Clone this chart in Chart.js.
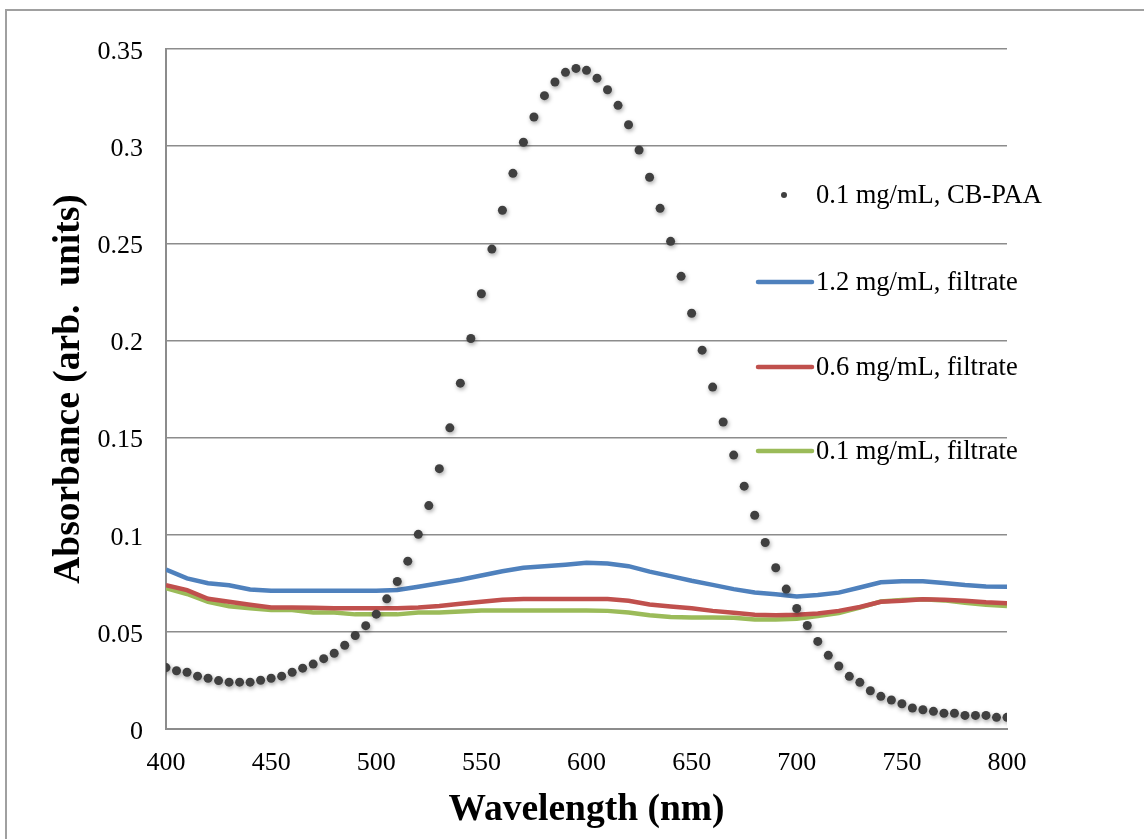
<!DOCTYPE html>
<html>
<head>
<meta charset="utf-8">
<script src="https://cdn.jsdelivr.net/npm/chart.js@4.4.1/dist/chart.umd.min.js"></script>
<style>
  html, body { margin: 0; padding: 0; background: #fff; }
  canvas { display: block; }
</style>
</head>
<body>
<canvas id="chart" width="1144" height="839"></canvas>
<script>
// CB-PAA dots, every 5 nm
const dotWavelengths = [];
for (let w = 400; w <= 800; w += 5) dotWavelengths.push(w);
const cbPaa = [
  0.0316, 0.030, 0.0292, 0.0272, 0.0261, 0.0249, 0.0241, 0.0241, 0.0241, 0.0251,
  0.0261, 0.0272, 0.0292, 0.0313, 0.0334, 0.0362, 0.039, 0.0431, 0.0481, 0.0532,
  0.0591, 0.067, 0.0759, 0.0864, 0.1002, 0.115, 0.134, 0.155, 0.178, 0.201,
  0.224, 0.247, 0.267, 0.286, 0.302, 0.315, 0.326, 0.333, 0.338, 0.340,
  0.339, 0.335, 0.329, 0.321, 0.311, 0.298, 0.284, 0.268, 0.251, 0.233,
  0.214, 0.195, 0.176, 0.158, 0.141, 0.125, 0.110, 0.096, 0.083, 0.072,
  0.062, 0.0533, 0.0451, 0.0379, 0.0324, 0.0271, 0.024, 0.0197, 0.0168, 0.0149,
  0.013, 0.0108, 0.0099, 0.0091, 0.0081, 0.0081, 0.007, 0.007, 0.007, 0.006,
  0.006
];

// filtrate lines, every 10 nm
const lineWavelengths = [];
for (let w = 400; w <= 800; w += 10) lineWavelengths.push(w);
const filtrate12 = [
  0.082, 0.0775, 0.075, 0.074, 0.0718, 0.0711, 0.0711, 0.0711, 0.0711, 0.0711,
  0.0711, 0.0715, 0.0732, 0.075, 0.0768, 0.079, 0.0812, 0.083, 0.0838, 0.0846,
  0.0856, 0.0852, 0.0838, 0.081, 0.0787, 0.0763, 0.0742, 0.072, 0.0703, 0.0694,
  0.0682, 0.069, 0.0702, 0.0728, 0.0755, 0.0761, 0.0761, 0.0752, 0.0741, 0.0733,
  0.0732
];
const filtrate06 = [
  0.074, 0.0715, 0.067, 0.0655, 0.064, 0.0626, 0.0626, 0.0624, 0.0621, 0.0621,
  0.0621, 0.0621, 0.0625, 0.0633, 0.0645, 0.0655, 0.0665, 0.0669, 0.0669, 0.0669,
  0.0669, 0.0669, 0.066, 0.0641, 0.063, 0.0621, 0.0608, 0.0598, 0.0588, 0.0586,
  0.0588, 0.0595, 0.0608, 0.0628, 0.0655, 0.066, 0.0668, 0.0665, 0.066, 0.0652,
  0.0647
];
const filtrate01 = [
  0.0725, 0.0695, 0.0655, 0.0632, 0.0622, 0.0612, 0.0612, 0.060, 0.060, 0.059,
  0.059, 0.059, 0.060, 0.060, 0.0605, 0.061, 0.061, 0.061, 0.061, 0.061,
  0.061, 0.0608, 0.060, 0.0586, 0.0576, 0.0574, 0.0574, 0.0572, 0.0564, 0.0564,
  0.0568, 0.0582, 0.0597, 0.0625, 0.0656, 0.0664, 0.0668, 0.0662, 0.065, 0.064,
  0.0633
];

const labels = ['0.1 mg/mL, CB-PAA', '1.2 mg/mL, filtrate', '0.6 mg/mL, filtrate', '0.1 mg/mL, filtrate'];
const colors = ['#404040', '#4f81bd', '#c0504d', '#9bbb59'];

const pts = (xs, ys) => xs.map((x, i) => ({ x: x, y: ys[i] }));
const serif = '"Liberation Serif", "Times New Roman", serif';

// outer frame + white background
const framePlugin = {
  id: 'frame',
  beforeDraw(chart) {
    const ctx = chart.ctx;
    ctx.save();
    ctx.fillStyle = '#fff';
    ctx.fillRect(0, 0, chart.width, chart.height);
    ctx.strokeStyle = '#a0a0a0';
    ctx.lineWidth = 2;
    ctx.beginPath();
    ctx.moveTo(6, chart.height);
    ctx.lineTo(6, 10);
    ctx.lineTo(chart.width, 10);
    ctx.stroke();
    ctx.restore();
  }
};

// soft shadow under the dots, like the original
const shadowPlugin = {
  id: 'dotShadow',
  beforeDatasetDraw(chart, args) {
    if (args.index !== 0) return;
    const ctx = chart.ctx;
    ctx.save();
    ctx.shadowColor = 'rgba(0,0,0,0.35)';
    ctx.shadowBlur = 4;
    ctx.shadowOffsetX = 1;
    ctx.shadowOffsetY = 2;
  },
  afterDatasetDraw(chart, args) {
    if (args.index !== 0) return;
    chart.ctx.restore();
  }
};

// legend inside the plot area on the right
const legendPlugin = {
  id: 'sideLegend',
  afterDraw(chart) {
    const ctx = chart.ctx;
    const area = chart.chartArea;
    const rows = [146, 233, 318, 402];
    const textX = area.right - 191;
    ctx.save();
    ctx.font = '26.5px ' + serif;
    ctx.textBaseline = 'middle';
    ctx.fillStyle = '#000';
    chart.data.datasets.forEach((ds, i) => {
      const y = area.top + rows[i];
      if (i === 0) {
        ctx.beginPath();
        ctx.fillStyle = ds.backgroundColor;
        ctx.arc(textX - 32, y, 3, 0, Math.PI * 2);
        ctx.fill();
      } else {
        ctx.strokeStyle = ds.borderColor;
        ctx.lineWidth = 4.5;
        ctx.lineCap = 'round';
        ctx.beginPath();
        ctx.moveTo(textX - 58, y);
        ctx.lineTo(textX - 4, y);
        ctx.stroke();
      }
      ctx.fillStyle = '#000';
      ctx.fillText(ds.label, textX, y + 1);
    });
    ctx.restore();
  }
};

new Chart(document.getElementById('chart'), {
  type: 'scatter',
  data: {
    datasets: [
      {
        label: labels[0],
        data: pts(dotWavelengths, cbPaa),
        showLine: false,
        pointRadius: 4.5,
        pointBackgroundColor: colors[0],
        backgroundColor: colors[0],
        pointBorderWidth: 0
      },
      {
        label: labels[1],
        data: pts(lineWavelengths, filtrate12),
        showLine: true,
        borderColor: colors[1],
        borderWidth: 4.5,
        pointRadius: 0
      },
      {
        label: labels[2],
        data: pts(lineWavelengths, filtrate06),
        showLine: true,
        borderColor: colors[2],
        borderWidth: 4.5,
        pointRadius: 0
      },
      {
        label: labels[3],
        data: pts(lineWavelengths, filtrate01),
        showLine: true,
        borderColor: colors[3],
        borderWidth: 4.5,
        pointRadius: 0
      }
    ]
  },
  options: {
    responsive: false,
    animation: false,
    layout: { padding: { top: 49, right: 137, left: 0, bottom: 0 } },
    plugins: {
      legend: { display: false },
      tooltip: { enabled: false }
    },
    scales: {
      x: {
        type: 'linear',
        min: 400,
        max: 800,
        afterFit(scale) { scale.height = 110; },
        ticks: { stepSize: 50, color: '#000', padding: 19, font: { family: serif, size: 26 } },
        grid: { drawOnChartArea: false, drawTicks: false },
        border: { color: '#8c8c8c', width: 2 },
        title: {
          display: true,
          text: 'Wavelength (nm)',
          color: '#000',
          font: { family: serif, size: 37.5, weight: 'bold' },
          padding: { top: 0, bottom: 6 }
        }
      },
      y: {
        min: 0,
        max: 0.35,
        afterFit(scale) { scale.width = 166; },
        ticks: {
          stepSize: 0.05,
          color: '#000',
          padding: 23,
          labelOffset: 3,
          font: { family: serif, size: 26 },
          callback: v => String(+v.toFixed(2))
        },
        grid: { color: '#8c8c8c', lineWidth: 1.5, drawTicks: false },
        border: { color: '#8c8c8c', width: 2 },
        title: {
          display: true,
          text: 'Absorbance (arb.  units)',
          color: '#000',
          font: { family: serif, size: 37.5, weight: 'bold' },
          padding: { top: 47, bottom: 0 }
        }
      }
    }
  },
  plugins: [framePlugin, shadowPlugin, legendPlugin]
});
</script>
</body>
</html>
